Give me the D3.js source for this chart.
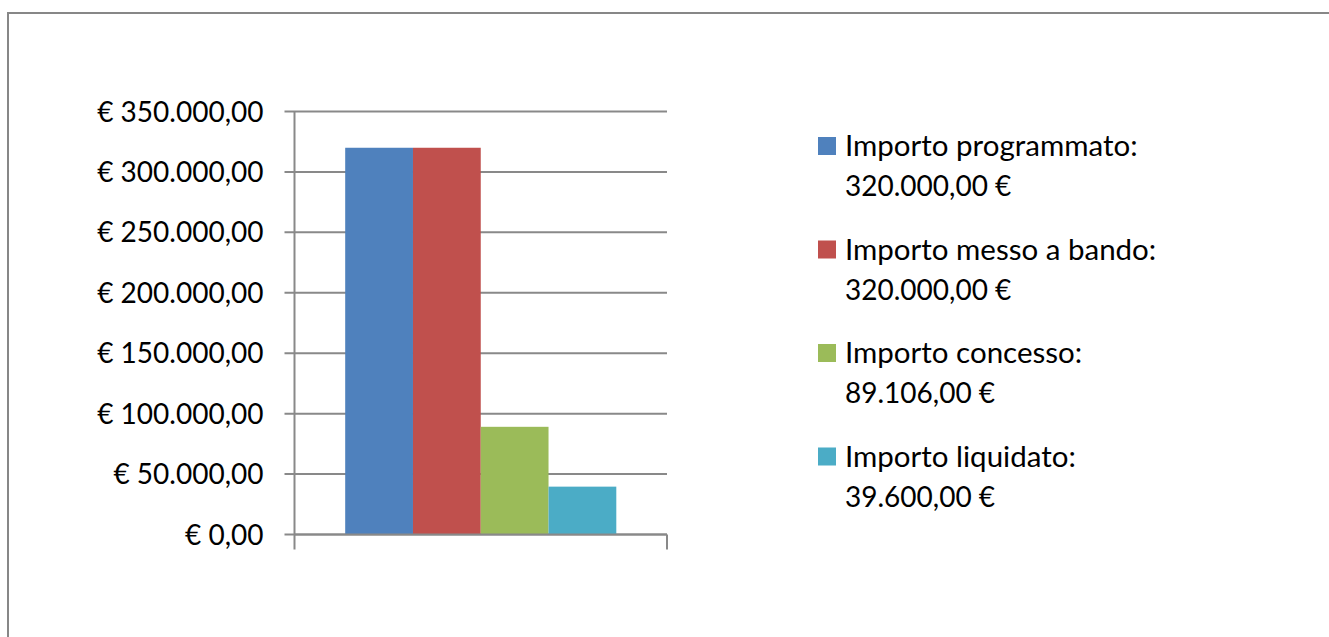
<!DOCTYPE html>
<html>
<head>
<meta charset="utf-8">
<script src="https://cdn.jsdelivr.net/npm/d3@7"></script>
<style>
  body { margin: 0; background: #fff; }
  text { font-family: Lato, "Open Sans", sans-serif; fill: #000; }
</style>
</head>
<body>
<div id="chart"></div>
<script>
// Chart data
var series_Names = ["Importo programmato:", "Importo messo a bando:", "Importo concesso:", "Importo liquidato:"];
var series_Values = [320000, 320000, 89106, 39600];
var value_Labels = ["320.000,00 €", "320.000,00 €", "89.106,00 €", "39.600,00 €"];
var series_Colors = ["#4F81BD", "#C0504D", "#9BBB59", "#4BACC6"];
var y_Ticks = [0, 50000, 100000, 150000, 200000, 250000, 300000, 350000];
var y_TickLabels = ["€ 0,00", "€ 50.000,00", "€ 100.000,00", "€ 150.000,00", "€ 200.000,00", "€ 250.000,00", "€ 300.000,00", "€ 350.000,00"];
var categories = [""];

var svg_Width = 1329;
var svg_Height = 637;

var chart_Margin = { top: 111.5, left: 294.5 };
var chart_Width = 372.5;
var chart_Height = 423;

var svg = d3.select("#chart")
  .append("svg")
  .attr("width", svg_Width)
  .attr("height", svg_Height);

// Outer frame (only top, left and right edges show)
svg.append("path")
  .attr("d", "M8,640 L8,13 L1340,13")
  .attr("fill", "none")
  .attr("stroke", "#878787")
  .attr("stroke-width", 2);

var chart_Group = svg.append("g")
  .attr("transform", `translate(${chart_Margin.left}, ${chart_Margin.top})`);

var x_Scale = d3.scaleBand()
  .domain(categories)
  .range([0, chart_Width])
  .paddingInner(0)
  .paddingOuter(0.187);

var x_Inner = d3.scaleBand()
  .domain(series_Names)
  .range([0, x_Scale.bandwidth()]);

var y_Scale = d3.scaleLinear()
  .domain([0, 350000])
  .range([chart_Height, 0]);

// Gridlines
chart_Group.selectAll(".grid")
  .data(y_Ticks)
  .enter()
  .append("line")
  .attr("x1", -10)
  .attr("x2", chart_Width)
  .attr("y1", d => y_Scale(d))
  .attr("y2", d => y_Scale(d))
  .attr("stroke", "#898989")
  .attr("stroke-width", 2);

// Bars
chart_Group.selectAll(".bar")
  .data(series_Values)
  .enter()
  .append("rect")
  .attr("x", (d, i) => x_Scale("") + x_Inner(series_Names[i]))
  .attr("y", d => y_Scale(d))
  .attr("width", x_Inner.bandwidth())
  .attr("height", d => chart_Height - y_Scale(d))
  .attr("fill", (d, i) => series_Colors[i]);

// Axes lines
chart_Group.append("line")
  .attr("x1", 0).attr("x2", 0)
  .attr("y1", 0).attr("y2", chart_Height + 15)
  .attr("stroke", "#898989").attr("stroke-width", 2);
chart_Group.append("line")
  .attr("x1", 0).attr("x2", chart_Width)
  .attr("y1", chart_Height).attr("y2", chart_Height)
  .attr("stroke", "#898989").attr("stroke-width", 2);
chart_Group.append("line")
  .attr("x1", chart_Width).attr("x2", chart_Width)
  .attr("y1", chart_Height).attr("y2", chart_Height + 15)
  .attr("stroke", "#898989").attr("stroke-width", 2);

// Y tick labels
chart_Group.selectAll(".ylabel")
  .data(y_Ticks)
  .enter()
  .append("text")
  .attr("x", -31)
  .attr("y", d => y_Scale(d))
  .attr("dy", "0.36em")
  .attr("text-anchor", "end")
  .style("font-size", "28px")
  .text((d, i) => y_TickLabels[i]);

// Legend
var legend = svg.append("g")
  .attr("transform", "translate(818, 137)");

var legend_Item = legend.selectAll(".item")
  .data(series_Names)
  .enter()
  .append("g")
  .attr("transform", (d, i) => `translate(0, ${i * 103.5})`);

legend_Item.append("rect")
  .attr("width", 18)
  .attr("height", 18)
  .attr("fill", (d, i) => series_Colors[i]);

legend_Item.append("text")
  .attr("x", 27)
  .attr("y", 19)
  .style("font-size", "29.5px")
  .text(d => d);

legend_Item.append("text")
  .attr("x", 27)
  .attr("y", 59)
  .style("font-size", "28px")
  .text((d, i) => value_Labels[i]);
</script>
</body>
</html>
